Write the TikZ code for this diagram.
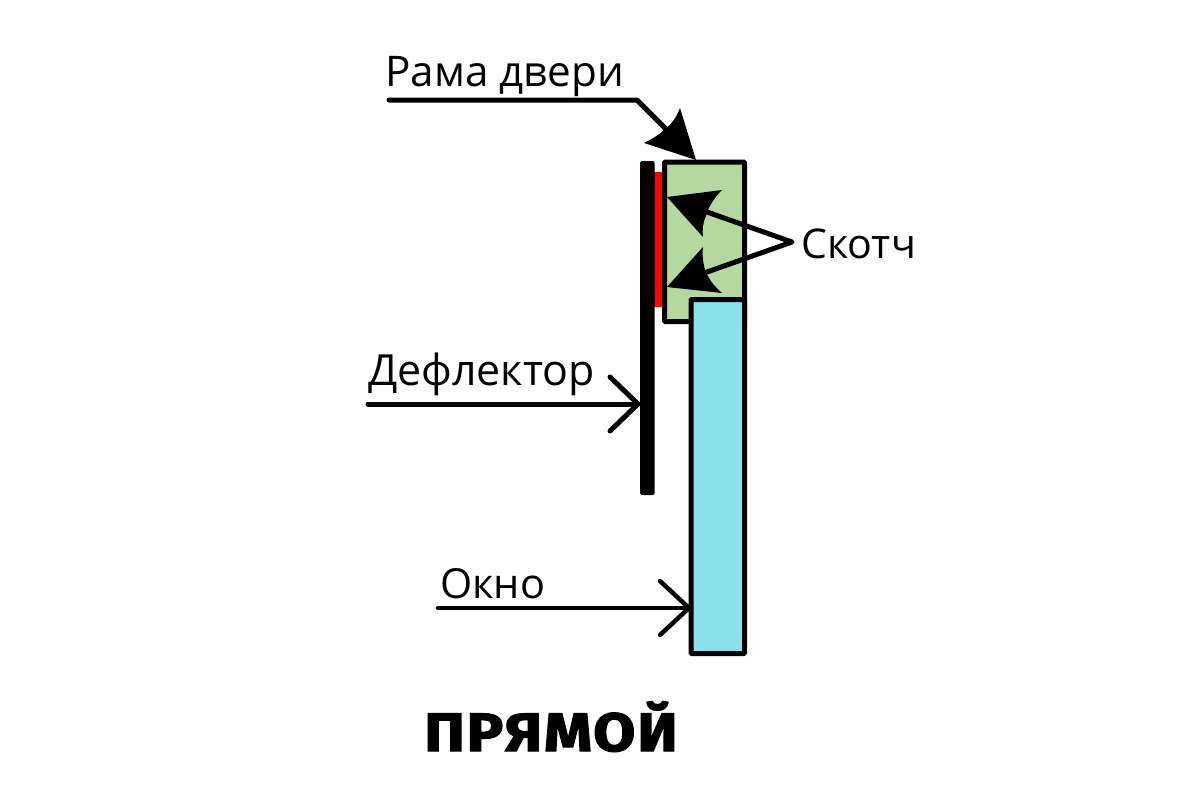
\documentclass[tikz,border=0pt]{standalone}
\usepackage{fontspec}
\setmainfont{Open Sans}
\newfontfamily\titlefont[FakeBold=2.2,LetterSpace=3]{Fira Sans Bold}
\definecolor{framegreen}{HTML}{B5D7A0}
\definecolor{glassblue}{HTML}{8AE1EC}
\definecolor{tapered}{HTML}{FF0000}
\tikzset{
  panel/.style={draw=black,line width=5pt,rounded corners=1pt},
  leader/.style={draw=black,line width=5pt,line cap=round,line join=round},
  head/.style={fill=black,draw=none},
  lbl/.style={inner sep=0pt,anchor=base west,text=black}
}
\begin{document}
\begin{tikzpicture}[x=1pt,y=-1pt]
\useasboundingbox (0,0) rectangle (1200,800);
% tape
\fill[tapered] (654,172) rectangle (663,307);
% deflector
\fill[black,rounded corners=1.5pt] (640,161) rectangle (654.5,495);
% frame and window
\draw[panel,fill=framegreen] (664.5,162) rectangle (744.5,321.5);
\draw[panel,fill=glassblue] (691,299.5) rectangle (744.5,653.5);
% named points
\coordinate (s) at (792,242);
\coordinate (t1) at (667,197);
\coordinate (t2) at (667,287);
\coordinate (n1) at (707,212);
\coordinate (n2) at (707,272);
\coordinate (r0) at (389,100);
\coordinate (r1) at (637,100);
\coordinate (r2) at (668,131);
\coordinate (rt) at (696,160);
\coordinate (d0) at (368,404);
\coordinate (dt) at (638,404);
\coordinate (o0) at (438,608);
\coordinate (ot) at (689,608);
% labels
\node[lbl,font=\fontsize{42.2}{42}\selectfont] (rama) at (385,87) {Рама двери};
\node[lbl,font=\fontsize{41}{41}\selectfont] (skotch) at (801,258) {Скотч};
\node[lbl,font=\fontsize{42.9}{43}\selectfont] (defl) at (368,385) {Дефлектор};
\node[lbl,font=\fontsize{41.4}{41}\selectfont] (okno) at (440,598) {Окно};
\node[inner sep=0pt,anchor=base,xscale=1.13,font=\titlefont\fontsize{54}{54}\selectfont] (title) at (551,751) {ПРЯМОЙ};
% Scotch leaders
\draw[leader] (n1) -- (s) -- (n2);
\fill[head] (t1) -- (722,190) .. controls (713,199) and (708,208) .. (706,216) .. controls (703,222) and (702,230) .. (703,237) -- cycle;
\fill[head] (t2) -- (703,247) .. controls (702,255) and (703,265) .. (706,272) .. controls (709,280) and (716,288) .. (722,293) -- cycle;
% door frame leader
\draw[leader] (r0) -- (r1) -- (r2);
\fill[head] (rt) -- (680,108) .. controls (677,116) and (672,124) .. (665,129) .. controls (659,135) and (652,139) .. (644,143) -- cycle;
% open arrows
\draw[leader] (d0) -- (dt);
\draw[leader] (610,377) -- (dt) -- (610,431);
\draw[leader,line width=4.5pt] (o0) -- (ot);
\draw[leader,line width=4.5pt] (660,581) -- (ot) -- (660,635);
\end{tikzpicture}
\end{document}
